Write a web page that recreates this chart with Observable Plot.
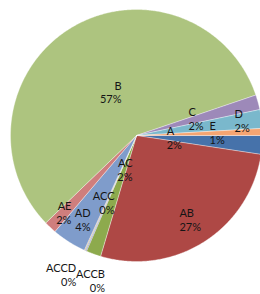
<!DOCTYPE html>
<html><head><meta charset="utf-8">
<script src="https://cdn.jsdelivr.net/npm/d3@7"></script>
<script src="https://cdn.jsdelivr.net/npm/@observablehq/plot@0.6"></script>
<style>html,body{margin:0;padding:0;background:#fff;overflow:hidden;}</style>
</head><body><div id="chart"></div>
<script>
// data
const categories = ["A","AB","AC","ACC","ACCB","ACCD","AD","AE","B","C","D","E"];
const values = [2.4, 27.2, 1.9, 0.1, 0.1, 0.1, 4.4, 1.6, 57.0, 1.9, 2.4, 0.9];
// styles / label layout
const colors = ["#4672AA","#AE4845","#8DAA4D","#7A5F9A","#4BA5BE","#E98C4A","#7F9CCB","#CF7E7D","#ADC47F","#9D89B9","#7AB8CC","#F5A572"];
const labelRadius = [0.24, 0.75, 0.27, 0.56, 1.18, 1.20, 0.76, 0.80, 0.365, 0.434, 0.787, 0.58];
const labelTurn = [0, 5.4, -13.3, -5.4, -11.7, -0.8, -3.7, -3.0, 12.3, -2.8, -1.1, -0.8];

const total = d3.sum(values);
let acc = 0;
const slices = categories.map((c, i) => {
  const a0 = acc / total * 2 * Math.PI;
  acc += values[i];
  const a1 = acc / total * 2 * Math.PI;
  return {c, v: values[i], a0, a1, mid: (a0 + a1) / 2, i};
});
const pts = [];
for (const s of slices) {
  pts.push({key: s.c, x: 0, y: 0});
  const n = Math.max(2, Math.ceil((s.a1 - s.a0) / (Math.PI / 360)));
  for (let k = 0; k <= n; k++) {
    const a = s.a0 + (s.a1 - s.a0) * k / n;
    pts.push({key: s.c, x: Math.cos(a), y: Math.sin(a)});
  }
  pts.push({key: s.c, x: 0, y: 0});
}
const labels = slices.map(s => {
  const a = s.mid + labelTurn[s.i] * Math.PI / 180;
  const r = labelRadius[s.i];
  return {text: s.c + "\n" + Math.round(s.v / total * 100) + "%", x: r * Math.cos(a), y: r * Math.sin(a)};
});

const R = 126;
const chart = Plot.plot({
  width: 260, height: 294,
  margin: 0,
  x: {domain: [-136 / R, 124 / R], axis: null},
  y: {domain: [-135 / R, 159 / R], reverse: true, axis: null},
  color: {domain: categories, range: colors},
  style: {fontFamily: "Lato, sans-serif", fontSize: "11px", background: "#fff"},
  marks: [
    Plot.line(pts, {x: "x", y: "y", z: "key", fill: "key", stroke: "white", strokeWidth: 0.5, strokeOpacity: 0.7}),
    Plot.text(labels.filter(d => d.x > 0), {x: "x", y: "y", text: "text", textAnchor: "start", lineHeight: 1.27, fontSize: 11, fill: "#151515"}),
    Plot.text(labels.filter(d => d.x <= 0), {x: "x", y: "y", text: "text", textAnchor: "end", lineHeight: 1.27, fontSize: 11, fill: "#151515"})
  ]
});
document.getElementById("chart").appendChild(chart);
</script>
</body></html>
